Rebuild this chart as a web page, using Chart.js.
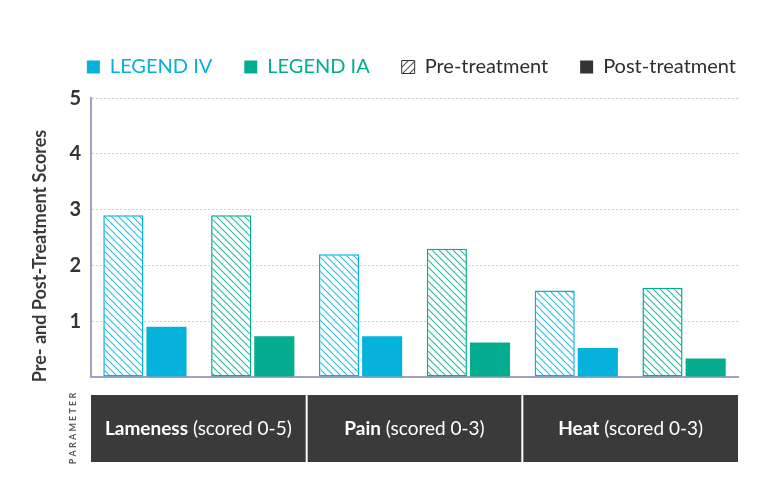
<!DOCTYPE html>
<html>
<head>
<meta charset="utf-8">
<script src="https://cdn.jsdelivr.net/npm/chart.js@4.4.1/dist/chart.umd.min.js"></script>
<style>
  html, body { margin: 0; padding: 0; background: #fff; }
  #wrap { width: 770px; height: 500px; }
</style>
</head>
<body>
<div id="wrap"><canvas id="scoreChart" width="770" height="500"></canvas></div>
<script>
// data
const parameters = ['Lameness', 'Pain', 'Heat'];
const scoreRanges = ['(scored 0-5)', '(scored 0-3)', '(scored 0-3)'];
const routes = ['IV', 'IA'];
const preScores = [2.9, 2.9, 2.2, 2.3, 1.55, 1.6];
const postScores = [0.9, 0.73, 0.73, 0.62, 0.52, 0.33];
const yTicks = [1, 2, 3, 4, 5];

const routeColors = { IV: '#05b2dc', IA: '#04ad8f' };
const darkGrey = '#3a3a3a';
const axisPurple = '#a99cc6';

const labels = [];
const barRoutes = [];
parameters.forEach(p => {
    routes.forEach(r => {
        labels.push(p + ' ' + r);
        barRoutes.push(r);
    });
});

function hatch(color, forward) {
    const c = document.createElement('canvas');
    c.width = 7;
    c.height = 7;
    const x = c.getContext('2d');
    x.fillStyle = '#fff';
    x.fillRect(0, 0, 7, 7);
    x.strokeStyle = color;
    x.globalAlpha = 0.85;
    x.lineWidth = 1.1;
    x.beginPath();
    if (forward) {
        x.moveTo(-1, 8); x.lineTo(8, -1);
        x.moveTo(-1, 1); x.lineTo(1, -1);
        x.moveTo(6, 8); x.lineTo(8, 6);
    } else {
        x.moveTo(-1, -1); x.lineTo(8, 8);
        x.moveTo(-1, 6); x.lineTo(1, 8);
        x.moveTo(6, -1); x.lineTo(8, 1);
    }
    x.stroke();
    return x.createPattern(c, 'repeat');
}

const hatchByRoute = { IV: hatch(routeColors.IV), IA: hatch(routeColors.IA) };

// dark parameter boxes under the axis, captions and the y title
const parameterBoxes = {
    id: 'parameterBoxes',
    afterDraw(chart) {
        const ctx = chart.ctx;
        const x = chart.scales.x;
        const area = chart.chartArea;
        const half = (x.getPixelForValue(1) - x.getPixelForValue(0)) / 2;
        const top = area.bottom + 18;
        const h = 67;
        ctx.save();
        parameters.forEach((p, i) => {
            let l = x.getPixelForValue(i * 2) - half;
            let r = x.getPixelForValue(i * 2 + 1) + half;
            if (i > 0) l += 1;
            if (i < parameters.length - 1) r -= 1;
            ctx.fillStyle = darkGrey;
            ctx.fillRect(l, top, r - l, h);

            ctx.font = 'bold 19px Lato';
            const w1 = ctx.measureText(p).width;
            ctx.font = '19px Lato';
            const w2 = ctx.measureText(' ' + scoreRanges[i]).width;
            let tx = (l + r) / 2 - (w1 + w2) / 2;
            ctx.fillStyle = '#fff';
            ctx.textBaseline = 'middle';
            ctx.textAlign = 'left';
            ctx.font = 'bold 19px Lato';
            ctx.fillText(p, tx, top + h / 2);
            ctx.font = '19px Lato';
            ctx.fillText(' ' + scoreRanges[i], tx + w1, top + h / 2);
        });

        ctx.translate(73, top + h / 2);
        ctx.rotate(-Math.PI / 2);
        ctx.fillStyle = '#555';
        ctx.font = 'bold 9px Lato';
        ctx.textAlign = 'center';
        ctx.textBaseline = 'middle';
        ctx.fillText('P A R A M E T E R', 0, 0);
        ctx.restore();

        ctx.save();
        ctx.translate(40, 256);
        ctx.rotate(-Math.PI / 2);
        ctx.fillStyle = darkGrey;
        ctx.font = 'bold 18px Lato';
        ctx.textAlign = 'center';
        ctx.textBaseline = 'middle';
        ctx.fillText('Pre- and Post-Treatment Scores', 0, 0);
        ctx.restore();
    }
};

new Chart(document.getElementById('scoreChart'), {
    type: 'bar',
    data: {
        labels: labels,
        datasets: [{
            label: 'Pre-treatment',
            data: preScores,
            backgroundColor: barRoutes.map(r => hatchByRoute[r]),
            borderColor: barRoutes.map(r => routeColors[r]),
            borderWidth: 1.5,
            borderSkipped: false,
            categoryPercentage: 0.8,
            barPercentage: 0.93
        }, {
            label: 'Post-treatment',
            data: postScores,
            backgroundColor: barRoutes.map(r => routeColors[r]),
            borderWidth: 0,
            categoryPercentage: 0.8,
            barPercentage: 0.93
        }]
    },
    options: {
        responsive: false,
        animation: false,
        layout: { padding: { top: 25, right: 2, bottom: 123, left: 0 } },
        plugins: {
            tooltip: { enabled: false },
            // empty title used only as a spacer between legend and plot
            title: {
                display: true,
                text: '',
                weight: 500,
                font: { size: 1 },
                padding: { top: 0, bottom: 10 }
            },
            legend: {
                align: 'end',
                onClick: null,
                labels: {
                    font: { family: 'Lato', size: 20 },
                    boxWidth: 13,
                    boxHeight: 13,
                    padding: 32,
                    generateLabels: () => [
                        { text: 'LEGEND IV', fillStyle: routeColors.IV, strokeStyle: routeColors.IV, lineWidth: 0, fontColor: routeColors.IV },
                        { text: 'LEGEND IA', fillStyle: routeColors.IA, strokeStyle: routeColors.IA, lineWidth: 0, fontColor: routeColors.IA },
                        { text: 'Pre-treatment', fillStyle: hatch('#333', true), strokeStyle: '#333', lineWidth: 1, fontColor: '#2e2e2e' },
                        { text: 'Post-treatment', fillStyle: '#333', strokeStyle: '#333', lineWidth: 0, fontColor: '#2e2e2e' }
                    ]
                }
            }
        },
        scales: {
            x: {
                ticks: { display: false },
                grid: { display: false },
                border: { color: axisPurple, width: 2 },
                afterFit: s => { s.height = 0; }
            },
            y: {
                min: 0,
                max: 5,
                afterBuildTicks: s => { s.ticks = [0].concat(yTicks).map(v => ({ value: v })); },
                afterFit: s => { s.width = 91; },
                ticks: {
                    color: '#333',
                    padding: 10,
                    font: { family: 'Lato', size: 20, weight: 'bold' },
                    callback: v => (v === 0 ? '' : v)
                },
                grid: {
                    color: ctx => (ctx.tick && ctx.tick.value === 0 ? 'rgba(0,0,0,0)' : '#cfcfcf'),
                    drawTicks: false
                },
                border: { color: axisPurple, width: 2, dash: [2, 2] }
            },
            // empty right margin so the legend can run to the right edge of the plot
            gutter: {
                type: 'linear',
                position: 'right',
                grid: { display: false },
                ticks: { display: false },
                border: { display: false },
                afterFit: s => { s.width = 30; }
            }
        }
    },
    plugins: [parameterBoxes]
});
</script>
</body>
</html>
